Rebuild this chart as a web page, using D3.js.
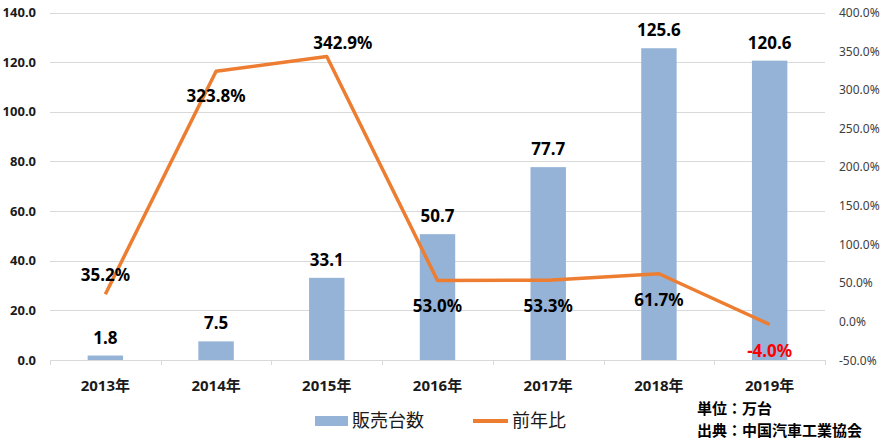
<!DOCTYPE html>
<html>
<head>
<meta charset="utf-8">
<script src="https://cdn.jsdelivr.net/npm/d3@7"></script>
<style>
  body { margin: 0; background: #fff; }
  svg { display: block; font-family: "Noto Sans", "Noto Sans CJK JP", sans-serif; }
</style>
</head>
<body>
<svg id="chart" width="888" height="440"></svg>
<script>
const categories = ["2013年", "2014年", "2015年", "2016年", "2017年", "2018年", "2019年"];
const sales = [1.8, 7.5, 33.1, 50.7, 77.7, 125.6, 120.6];
const yoy = [35.2, 323.8, 342.9, 53.0, 53.3, 61.7, -4.0];
const leftTicks = [0, 20, 40, 60, 80, 100, 120, 140];
const rightTicks = [-50, 0, 50, 100, 150, 200, 250, 300, 350, 400];
const seriesNames = ["販売台数", "前年比"];
const notes = ["単位：万台", "出典：中国汽車工業協会"];

// label placement offsets for line labels (style only)
const yoyLabelDy = [-13, 31, -8, 32, 32, 32, 33];
const yoyLabelDx = [0, 0, 16, 0, 0, 0, 0];

const fmt1 = d3.formatLocale({decimal: ".", thousands: ",", grouping: [3], currency: ["", ""], minus: "-"}).format(".1f");

const svg = d3.select("#chart");
const plotLeft = 50, plotRight = 825, plotTop = 12.5, plotBottom = 360;

const x = d3.scaleBand().domain(categories).range([plotLeft, plotRight]).paddingInner(0.68).paddingOuter(0.34);
const step = (plotRight - plotLeft) / categories.length;
const yL = d3.scaleLinear().domain([0, 140]).range([plotBottom, plotTop]);
const yR = d3.scaleLinear().domain([-50, 400]).range([plotBottom, plotTop]);

// gridlines
svg.append("g").selectAll("line").data(leftTicks.filter(d => d > 0)).join("line")
  .attr("x1", plotLeft).attr("x2", plotRight)
  .attr("y1", d => Math.round(yL(d)) + 0.5).attr("y2", d => Math.round(yL(d)) + 0.5)
  .attr("stroke", "#d9d9d9").attr("stroke-width", 1);

// bars
svg.append("g").selectAll("rect").data(sales).join("rect")
  .attr("x", (d, i) => x(categories[i]))
  .attr("width", x.bandwidth())
  .attr("y", d => yL(d))
  .attr("height", d => yL(0) - yL(d))
  .attr("fill", "#95b3d7");

// x axis line + ticks
const xAxisG = svg.append("g");
xAxisG.append("line").attr("x1", plotLeft).attr("x2", plotRight)
  .attr("y1", Math.round(yL(0)) + 0.5).attr("y2", Math.round(yL(0)) + 0.5)
  .attr("stroke", "#d9d9d9");
xAxisG.selectAll("line.tk").data(d3.range(categories.length + 1)).join("line")
  .attr("class", "tk")
  .attr("x1", i => Math.round(plotLeft + i * step) + 0.5).attr("x2", i => Math.round(plotLeft + i * step) + 0.5)
  .attr("y1", yL(0)).attr("y2", yL(0) + 5)
  .attr("stroke", "#d9d9d9");
xAxisG.selectAll("text").data(categories).join("text")
  .attr("x", d => x(d) + x.bandwidth() / 2)
  .attr("y", 391)
  .attr("text-anchor", "middle")
  .attr("font-size", 15).attr("font-weight", "bold").attr("fill", "#1a1a1a")
  .text(d => d);

// left axis labels
svg.append("g").selectAll("text").data(leftTicks).join("text")
  .attr("x", 36).attr("y", d => yL(d) + 4.5)
  .attr("text-anchor", "end")
  .attr("font-size", 13).attr("font-weight", "bold").attr("fill", "#1a1a1a")
  .text(d => fmt1(d));

// right axis labels
svg.append("g").selectAll("text").data(rightTicks).join("text")
  .attr("x", 839).attr("y", d => yR(d) + 4.5)
  .attr("text-anchor", "start")
  .attr("font-size", 12).attr("fill", "#404040")
  .text(d => fmt1(d) + "%");

// line
const line = d3.line()
  .x((d, i) => x(categories[i]) + x.bandwidth() / 2)
  .y(d => yR(d));
svg.append("path").datum(yoy)
  .attr("d", line)
  .attr("fill", "none").attr("stroke", "#ed7d31").attr("stroke-width", 3.5)
  .attr("stroke-linejoin", "round");

// bar labels
svg.append("g").selectAll("text").data(sales).join("text")
  .attr("x", (d, i) => x(categories[i]) + x.bandwidth() / 2)
  .attr("y", d => yL(d) - 12)
  .attr("text-anchor", "middle")
  .attr("font-size", 17).attr("font-weight", "bold").attr("fill", "#000")
  .text(d => fmt1(d));

// line labels
svg.append("g").selectAll("text").data(yoy).join("text")
  .attr("x", (d, i) => x(categories[i]) + x.bandwidth() / 2 + yoyLabelDx[i])
  .attr("y", (d, i) => yR(d) + yoyLabelDy[i])
  .attr("text-anchor", "middle")
  .attr("font-size", 17).attr("font-weight", "bold")
  .attr("fill", d => d < 0 ? "#ff0000" : "#000")
  .text(d => fmt1(d) + "%");

// legend
const lg = svg.append("g");
lg.append("rect").attr("x", 315).attr("y", 416).attr("width", 33).attr("height", 10).attr("fill", "#95b3d7");
lg.append("text").attr("x", 352).attr("y", 427).attr("font-size", 18).attr("fill", "#1a1a1a").text(seriesNames[0]);
lg.append("line").attr("x1", 473).attr("x2", 508).attr("y1", 421).attr("y2", 421)
  .attr("stroke", "#ed7d31").attr("stroke-width", 4);
lg.append("text").attr("x", 512).attr("y", 427).attr("font-size", 18).attr("fill", "#1a1a1a").text(seriesNames[1]);

// notes
svg.append("g").selectAll("text").data(notes).join("text")
  .attr("x", 697).attr("y", (d, i) => 414 + i * 22)
  .attr("font-size", 15).attr("font-weight", "bold").attr("fill", "#000")
  .text(d => d);
</script>
</body>
</html>
